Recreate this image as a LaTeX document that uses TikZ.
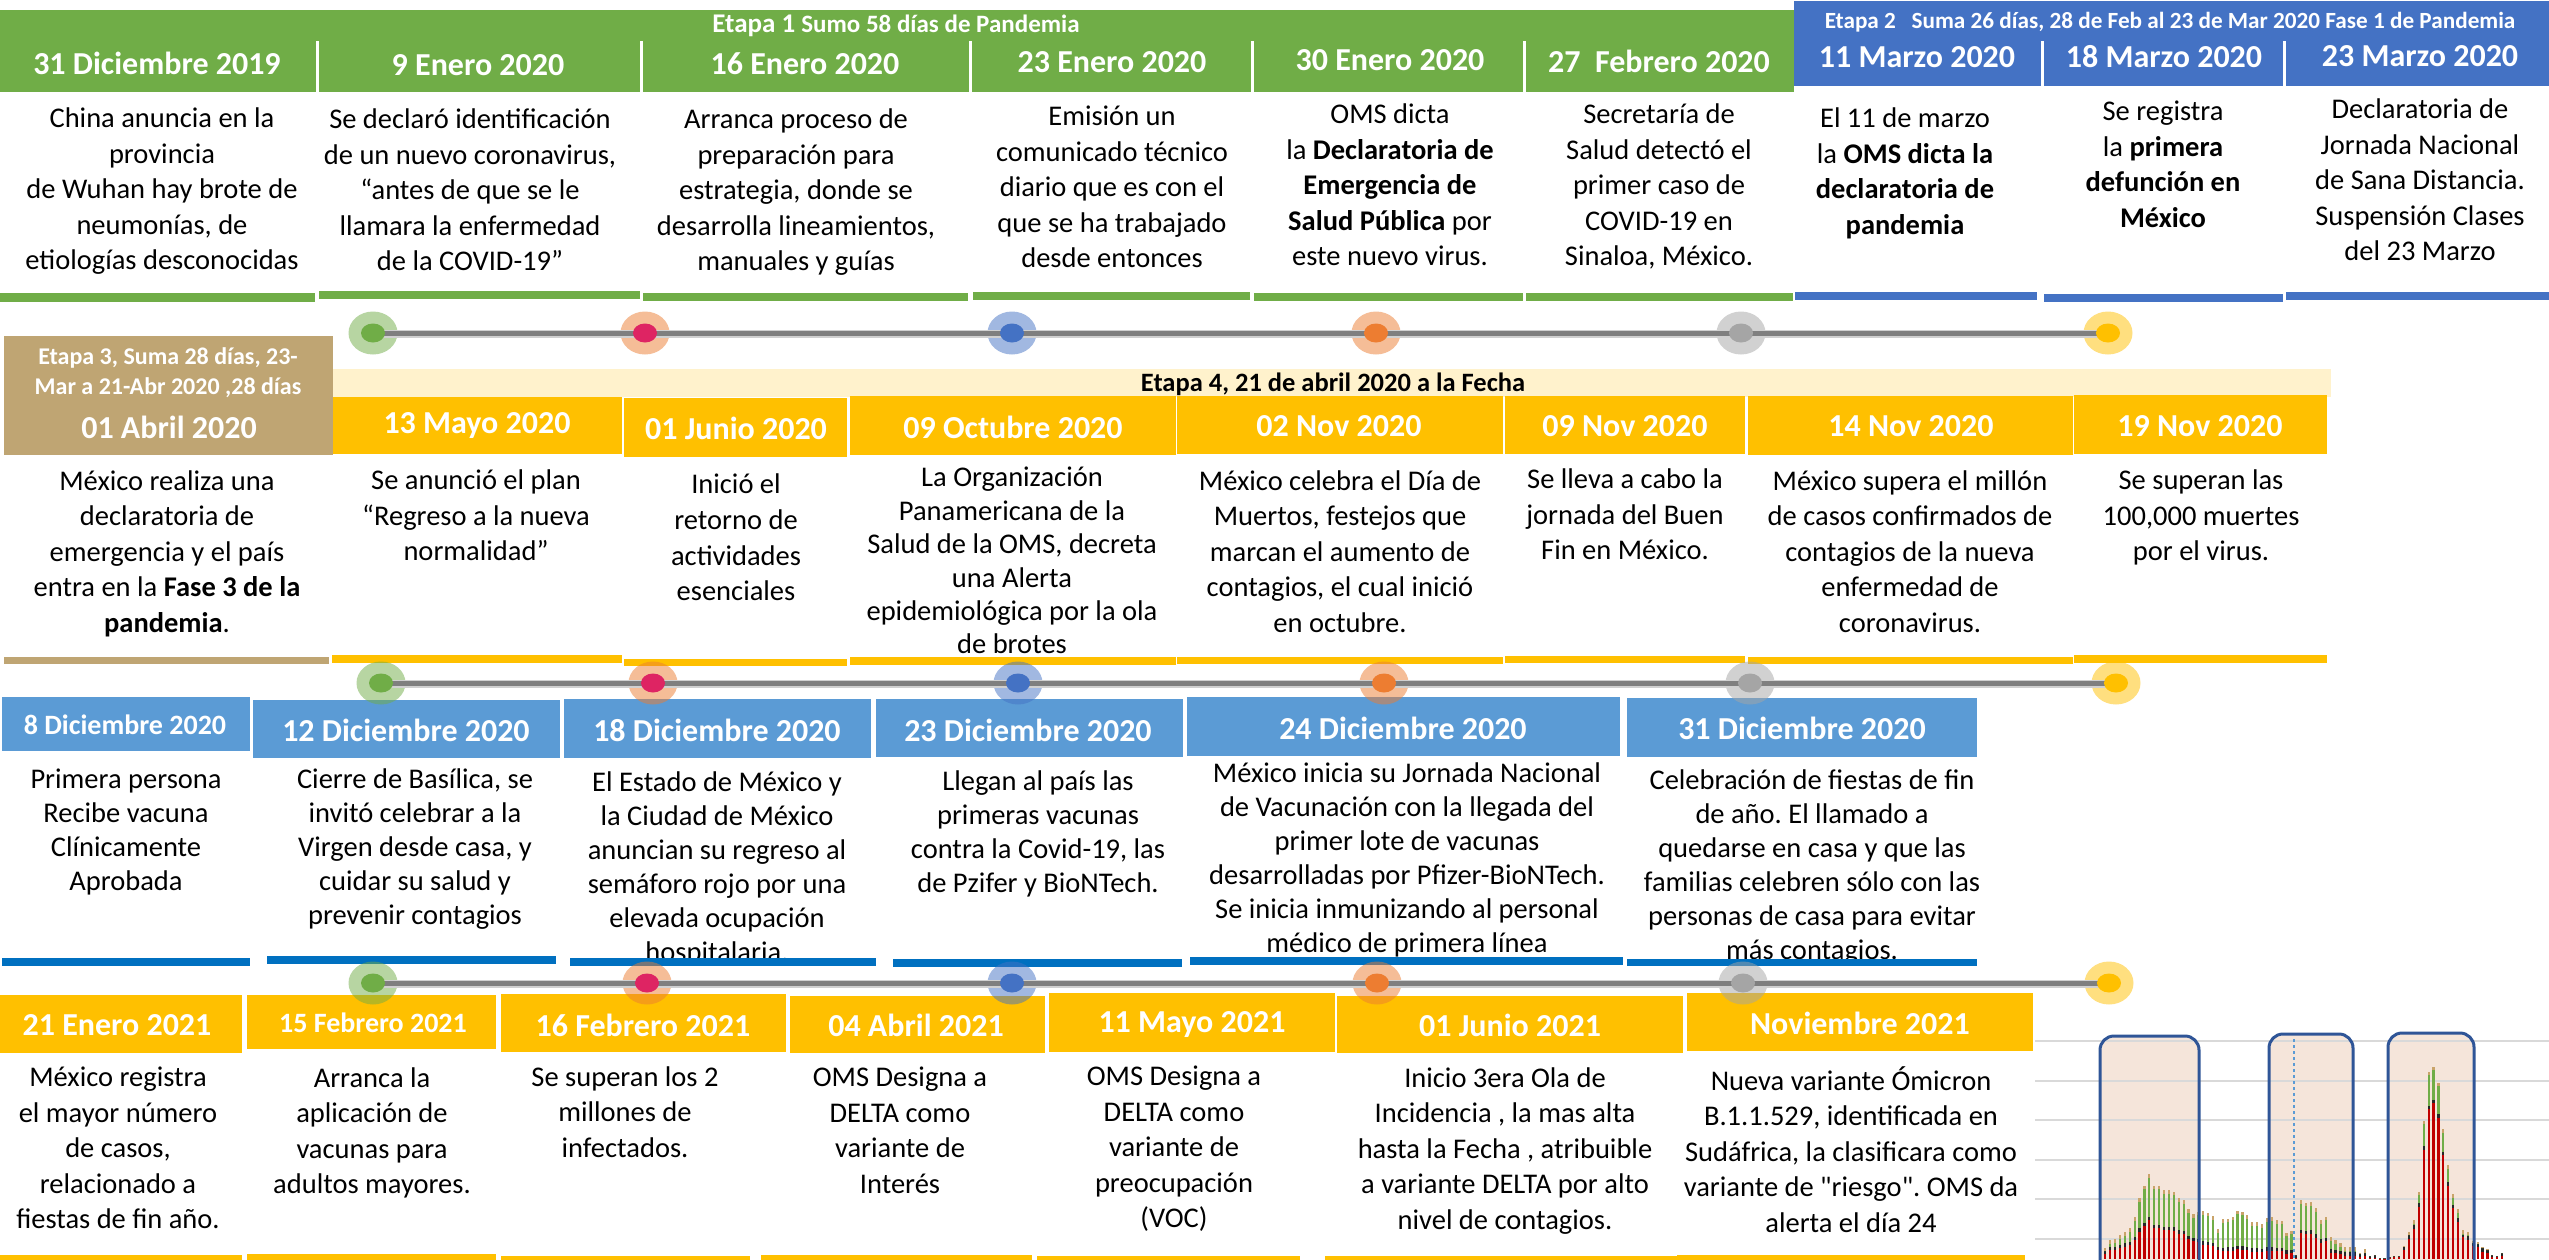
\documentclass[tikz,border=0pt]{standalone}
\usepackage{fontspec}
\setmainfont{Carlito}
\newfontfamily\qfont{Carlito}[Ligatures=TeXOff]
\usetikzlibrary{shapes.geometric}
\definecolor{cGreen}{HTML}{70AD47}
\definecolor{cBlue}{HTML}{4472C4}
\definecolor{cYel}{HTML}{FFC000}
\definecolor{cTan}{HTML}{BFA573}
\definecolor{cLY}{HTML}{FFF2CC}
\definecolor{cLB}{HTML}{5B9BD5}
\definecolor{cDB}{HTML}{0070C0}
\definecolor{cRed}{HTML}{DE2463}
\definecolor{cOra}{HTML}{ED7D31}
\definecolor{cGray}{HTML}{A5A5A5}
\definecolor{cLine}{HTML}{7F7F7F}
\definecolor{cLine2}{HTML}{D0D0D0}
\definecolor{cPeach}{HTML}{F5E5DA}
\definecolor{cNavy}{HTML}{2F5597}
\definecolor{cGrid}{HTML}{D9D9D9}
\definecolor{cBarR}{HTML}{C00000}
\definecolor{cBarK}{HTML}{262626}
\definecolor{cBarT}{HTML}{C9A46A}
\frenchspacing
\begin{document}
\begin{tikzpicture}[x=1pt,y=-1pt,
 hdr/.style={font=\fontsize{32}{38}\selectfont\bfseries,text=white,inner sep=0},
 hdrs/.style={font=\fontsize{28}{34}\selectfont\bfseries,text=white,inner sep=0},
 body/.style={font=\fontsize{28.5}{35.5}\selectfont,align=center,anchor=north,inner sep=0,execute at begin node=\strut},
 bodyc/.style={font=\fontsize{28.5}{34}\selectfont,align=center,anchor=north,inner sep=0,execute at begin node=\strut},
 ring/.style={ellipse,minimum width=49,minimum height=43,inner sep=0,fill opacity=0.5,draw=none},
 dotin/.style={ellipse,minimum width=24,minimum height=19,inner sep=0,draw=none},
 sep/.style={white,line width=3},
 chartbox/.style={rounded corners=14}
]
\useasboundingbox (0,0) rectangle (2549,1259);
\fill[white] (0,0) rectangle (2549,1259);

% ================= ROW 1 =================
\fill[cGreen] (0,10) rectangle (1794,92);
\fill[cBlue] (1794,1) rectangle (2549,86);
\foreach \sx in {317,641.5,970.5,1252.5,1524.5} \draw[sep] (\sx,41) -- (\sx,94);
\foreach \sx in {2042.5,2284.5} \draw[sep] (\sx,41) -- (\sx,88);
\node[font=\bfseries,text=white,inner sep=0] (et1) at (896,26) {\fontsize{27}{30}\selectfont Etapa 1 \fontsize{25}{30}\selectfont Sumo 58 días de Pandemia};
\node[font=\bfseries,text=white,inner sep=0] (et2) at (2170,22) {\fontsize{23.2}{27}\selectfont Etapa 2\ \ \ Suma 26 días, 28 de Feb al 23 de Mar 2020 Fase 1 de Pandemia};
\node[hdr] (h11) at (157,63) {31 Diciembre 2019};
\node[hdr] (h12) at (478,65) {9 Enero 2020};
\node[hdr] (h13) at (805,64) {16 Enero 2020};
\node[hdr] (h14) at (1112,62) {23 Enero 2020};
\node[hdr] (h15) at (1390,60) {30 Enero 2020};
\node[hdr] (h16) at (1659,61) {27\ \ Febrero 2020};
\node[hdr] (h17) at (1917,57) {11 Marzo 2020};
\node[hdr] (h18) at (2164,57) {18 Marzo 2020};
\node[hdr] (h19) at (2420,56) {23 Marzo 2020};

\node[body] (b11) at (162,108) {China anuncia en la\\provincia\\de Wuhan hay brote de\\neumonías, de\\etiologías desconocidas};
\node[body] (b12) at (470,109) {Se declaró identificación\\de un nuevo coronavirus,\\“antes de que se le\\llamara la enfermedad\\de la COVID-19”};
\node[body] (b13) at (796,109) {Arranca proceso de\\preparación para\\estrategia, donde se\\desarrolla lineamientos,\\manuales y guías};
\node[body] (b14) at (1112,106) {Emisión un\\comunicado técnico\\diario que es con el\\que se ha trabajado\\desde entonces};
\node[body] (b15) at (1390,104) {OMS dicta\\la \textbf{Declaratoria de}\\\textbf{Emergencia de}\\\textbf{Salud Pública} por\\este nuevo virus.};
\node[body] (b16) at (1659,104) {Secretaría de\\Salud detectó el\\primer caso de\\COVID-19 en\\Sinaloa, México.};
\node[body] (b17) at (1905,108) {El 11 de marzo\\la \textbf{OMS dicta la}\\\textbf{declaratoria de}\\\textbf{pandemia}};
\node[body] (b18) at (2163,101) {Se registra\\la \textbf{primera}\\\textbf{defunción en}\\\textbf{México}};
\node[body] (b19) at (2420,99) {Declaratoria de\\Jornada Nacional\\de Sana Distancia.\\Suspensión Clases\\del 23 Marzo};

\fill[cGreen] (0,293) rectangle (315,302);
\fill[cGreen] (319,291) rectangle (640,299);
\fill[cGreen] (643,293) rectangle (968,301);
\fill[cGreen] (973,292) rectangle (1250,300);
\fill[cGreen] (1254,293) rectangle (1523,301);
\fill[cGreen] (1526,293) rectangle (1793,301);
\fill[cBlue] (1795,292) rectangle (2037,300);
\fill[cBlue] (2044,294) rectangle (2283,302);
\fill[cBlue] (2286,292) rectangle (2549,300);

% ================= ROW 2 =================
\fill[cTan] (4,336) rectangle (333,455);
\fill[cLY] (333,369) rectangle (2331,397);
\fill[cYel] (333,397) rectangle (622,454);
\fill[cYel] (624,398) rectangle (847,457);
\fill[cYel] (850,396) rectangle (1176,455);
\fill[cYel] (1177,396) rectangle (1503,454);
\fill[cYel] (1505,396) rectangle (1745,454);
\fill[cYel] (1748,396) rectangle (2073,455);
\fill[cYel] (2074,395) rectangle (2327,454);
\node[font=\fontsize{24}{30}\selectfont\bfseries,text=white,align=center,inner sep=0] (et3) at (168,373) {Etapa 3, Suma 28 días, 23-\\Mar a 21-Abr 2020 ,28 días};
\node[font=\fontsize{26.5}{30}\selectfont\bfseries,inner sep=0] (et4) at (1333,384) {Etapa 4, 21 de abril 2020 a la Fecha};
\node[hdr] (h21) at (169,427) {01 Abril 2020};
\node[hdr] (h22) at (477,426) {13 Mayo 2020};
\node[hdr] (h23) at (736,428) {01 Junio 2020};
\node[hdr] (h24) at (1013,427) {09 Octubre 2020};
\node[hdr] (h25) at (1339,426) {02 Nov 2020};
\node[hdr] (h26) at (1625,426) {09 Nov 2020};
\node[hdr] (h27) at (1911,426) {14 Nov 2020};
\node[hdr] (h28) at (2200,426) {19 Nov 2020};

\node[body] (b21) at (167,470) {México realiza una\\declaratoria de\\emergencia y el país\\entra en la \textbf{Fase 3 de la}\\\textbf{pandemia}.};
\node[body] (b22) at (476,470) {Se anunció el plan\\“Regreso a la nueva\\normalidad”};
\node[body] (b23) at (736,474) {Inició el\\retorno de\\actividades\\esenciales};
\node[body,font=\fontsize{28.5}{33.4}\selectfont] (b24) at (1012,467) {La Organización\\Panamericana de la\\Salud de la OMS, decreta\\una Alerta\\epidemiológica por la ola\\de brotes};
\node[body] (b25) at (1340,470) {México celebra el Día de\\Muertos, festejos que\\marcan el aumento de\\contagios, el cual inició\\en octubre.};
\node[body] (b26) at (1625,469) {Se lleva a cabo la\\jornada del Buen\\Fin en México.};
\node[body] (b27) at (1910,470) {México supera el millón\\de casos confirmados de\\contagios de la nueva\\enfermedad de\\coronavirus.};
\node[body] (b28) at (2201,470) {Se superan las\\100,000 muertes\\por el virus.};

\fill[cTan] (4,657) rectangle (329,664);
\fill[cYel] (332,655) rectangle (622,663);
\fill[cYel] (624,659) rectangle (847,666);
\fill[cYel] (850,657) rectangle (1176,665);
\fill[cYel] (1177,657) rectangle (1503,664);
\fill[cYel] (1505,656) rectangle (1745,663);
\fill[cYel] (1748,657) rectangle (2073,664);
\fill[cYel] (2074,655) rectangle (2327,663);

% ================= ROW 3 =================
\fill[cLB] (2,697) rectangle (250,751);
\fill[cLB] (253,700) rectangle (560,758);
\fill[cLB] (564,699) rectangle (871,758);
\fill[cLB] (876,699) rectangle (1183,757);
\fill[cLB] (1187,697) rectangle (1620,756);
\fill[cLB] (1627,698) rectangle (1977,757);
\node[hdrs] (h31) at (125,725) {8 Diciembre 2020};
\node[hdr] (h32) at (406,730) {12 Diciembre 2020};
\node[hdr] (h33) at (717,730) {18 Diciembre 2020};
\node[hdr] (h34) at (1028,730) {23 Diciembre 2020};
\node[hdr] (h35) at (1403,728) {24 Diciembre 2020};
\node[hdr] (h36) at (1802,728) {31 Diciembre 2020};

\node[bodyc] (b31) at (126,769) {Primera persona\\Recibe vacuna\\Clínicamente\\Aprobada};
\node[bodyc] (b32) at (415,768) {Cierre de Basílica, se\\invitó celebrar a la\\Virgen desde casa, y\\cuidar su salud y\\prevenir contagios};
\node[bodyc] (b33) at (717,771) {El Estado de México y\\la Ciudad de México\\anuncian su regreso al\\semáforo rojo por una\\elevada ocupación\\hospitalaria.};
\node[bodyc] (b34) at (1038,770) {Llegan al país las\\primeras vacunas\\contra la Covid-19, las\\de Pzifer y BioNTech.};
\node[bodyc] (b35) at (1407,762) {México inicia su Jornada Nacional\\de Vacunación con la llegada del\\primer lote de vacunas\\desarrolladas por Pfizer-BioNTech.\\Se inicia inmunizando al personal\\médico de primera línea};
\node[bodyc] (b36) at (1812,769) {Celebración de fiestas de fin\\de año. El llamado a\\quedarse en casa y que las\\familias celebren sólo con las\\personas de casa para evitar\\más contagios.};

\fill[cDB] (2,958) rectangle (250,966);
\fill[cDB] (267,956) rectangle (556,964);
\fill[cDB] (570,958) rectangle (876,966);
\fill[cDB] (893,959) rectangle (1182,967);
\fill[cDB] (1190,957) rectangle (1623,965);
\fill[cDB] (1627,959) rectangle (1977,966);

% ================= ROW 4 =================
\fill[cYel] (0,995) rectangle (242,1053);
\fill[cYel] (247,995) rectangle (496,1049);
\fill[cYel] (501,994) rectangle (786,1052);
\fill[cYel] (790,996) rectangle (1045,1053);
\fill[cYel] (1049,993) rectangle (1335,1052);
\fill[cYel] (1337,996) rectangle (1683,1053);
\fill[cYel] (1687,993) rectangle (2033,1051);
\node[hdr] (h41) at (117,1025) {21 Enero 2021};
\node[hdrs] (h42) at (373,1023) {15 Febrero 2021};
\node[hdr] (h43) at (643,1025) {16 Febrero 2021};
\node[hdr] (h44) at (916,1025) {04 Abril 2021};
\node[hdr] (h45) at (1192,1025) {11 Mayo 2021};
\node[hdr] (h46) at (1510,1025) {01 Junio 2021};
\node[hdr] (h47) at (1860,1023) {Noviembre 2021};

\node[body] (b41) at (118,1067) {México registra\\el mayor número\\de casos,\\relacionado a\\fiestas de fin año.};
\node[body] (b42) at (372,1067) {Arranca la\\aplicación de\\vacunas para\\adultos mayores.};
\node[body] (b43) at (625,1066) {Se superan los 2\\millones de\\infectados.};
\node[body] (b44) at (900,1067) {OMS Designa a\\DELTA como\\variante de\\Interés};
\node[body] (b45) at (1174,1066) {OMS Designa a\\DELTA como\\variante de\\preocupación\\(VOC)};
\node[body] (b46) at (1505,1067) {Inicio 3era Ola de\\Incidencia , la mas alta\\hasta la Fecha , atribuible\\a variante DELTA por alto\\nivel de contagios.};
\node[body] (b47) at (1851,1066) {Nueva variante Ómicron\\B.1.1.529, identificada en\\Sudáfrica, la clasificara como\\variante de {\qfont "riesgo"}. OMS da\\alerta el día 24};

\fill[cYel] (0,1255) rectangle (242,1262);
\fill[cYel] (247,1254) rectangle (496,1262);
\fill[cYel] (501,1256) rectangle (750,1262);
\fill[cYel] (761,1255) rectangle (1032,1262);
\fill[cYel] (1037,1256) rectangle (1300,1262);
\fill[cYel] (1325,1256) rectangle (1677,1262);
\fill[cYel] (1677,1255) rectangle (2025,1262);

% ================= CHART =================
\foreach \ax/\ay/\bx in {2100/1036/2199, 2269/1034/2353, 2388/1033/2474}
  \fill[cPeach,chartbox] (\ax,\ay) rectangle (\bx,1300);
\foreach \gy in {1041,1081,1120,1160,1199,1239}
  \draw[cGrid,line width=2.2] (2035,\gy) -- (2549,\gy);
\foreach \h/\f [count=\i from 0] in {
 9/.45,10.7/.45,19/.45,19.7/.45,24/.45,27/.45,30.7/.45,41.7/.45,60.7/.45,73.3/.45,
 84.7/.46,73.3/.42,73.3/.42,69/.42,69/.42,67.3/.42,60.7/.42,59/.42,49.7/.4,45/.4,
 47.3/.35,48/.3,46.3/.3,43/.3,29.7/.3,39.7/.2,40.3/.2,42.3/.2,48.3/.2,47.3/.2,
 43.7/.2,37/.2,37/.2,35/.2,40.7/.2,41.7/.2,39/.2,38.3/.2,26.3/.2,28.3/.2,
 4/.3,59/.44,56.3/.44,57/.44,50.7/.42,39/.42,42.3/.42,21.7/.3,19/.3,15.7/.3,
 11.7/.3,11.7/.3,11.7/.3,5.7/.3,9.7/.3,3.3/.3,4/.3,0.7/.3,1/.3,
 2.3/.6,3/.6,3/.6,13/.7,26.7/.75,39/.78,67.3/.78,138.3/.79,187.3/.8,192.3/.81,
 176.3/.8,129.7/.8,93.7/.78,65/.78,49.7/.75,29/.75,27.3/.7,18/.7,16.7/.7,11.7/.6,
 9.7/.6,4/.5,3.3/.5,5.7/.5} {
  \pgfmathsetmacro\xx{2100.3+4.9*\i}
  \pgfmathsetmacro\hr{\h*\f}
  \pgfmathsetmacro\hk{min(\hr+3.5,\h)}
  \pgfmathsetmacro\hg{max(\h-3.5,\hk)}
  \fill[cBarR] (\xx-1.1,1259) rectangle (\xx+1.1,1259-\hr);
  \fill[cBarK] (\xx-1.1,1259-\hr) rectangle (\xx+1.1,1259-\hk);
  \fill[cGreen] (\xx-1.1,1259-\hk) rectangle (\xx+1.1,1259-\hg);
  \fill[cBarT] (\xx-1.1,1259-\hg) rectangle (\xx+1.1,1259-\h);
}
\draw[cLB,dashed,line width=1.2] (2294,1039) -- (2294,1259);
\foreach \ax/\ay/\bx in {2100/1036/2199, 2269/1034/2353, 2388/1033/2474}
  \draw[cNavy,line width=3,chartbox] (\ax,1300) -- (\ax,\ay) -- (\bx,\ay) -- (\bx,1300);

% ================= TIMELINES =================
\foreach \r/\yy/\xa/\xb/\xc/\xd/\xe/\xf in {1/333/373/645/1012/1376/1741/2108, 2/683/381/653/1018/1384/1750/2116, 3/983/373/647/1012/1377/1743/2109} {
  \coordinate (d\r a) at (\xa,\yy);
  \coordinate (d\r b) at (\xb,\yy);
  \coordinate (d\r c) at (\xc,\yy);
  \coordinate (d\r d) at (\xd,\yy);
  \coordinate (d\r e) at (\xe,\yy);
  \coordinate (d\r f) at (\xf,\yy);
}
\foreach \r in {1,2,3} {
  \foreach \k/\o in {a/cGreen,b/cOra,c/cBlue,d/cOra,e/cGray,f/cYel}
    \node[ring,fill=\o] (r\r\k) at (d\r\k) {};
  \draw[cLine2,line width=7.5] ([yshift=-1]d\r a) -- ([yshift=-1]d\r f);
  \draw[cLine,line width=5] (d\r a) -- (d\r f);
  \foreach \k/\c in {a/cGreen,b/cRed,c/cBlue,d/cOra,e/cGray,f/cYel}
    \node[dotin,fill=\c] (n\r\k) at (d\r\k) {};
}
\end{tikzpicture}
\end{document}
